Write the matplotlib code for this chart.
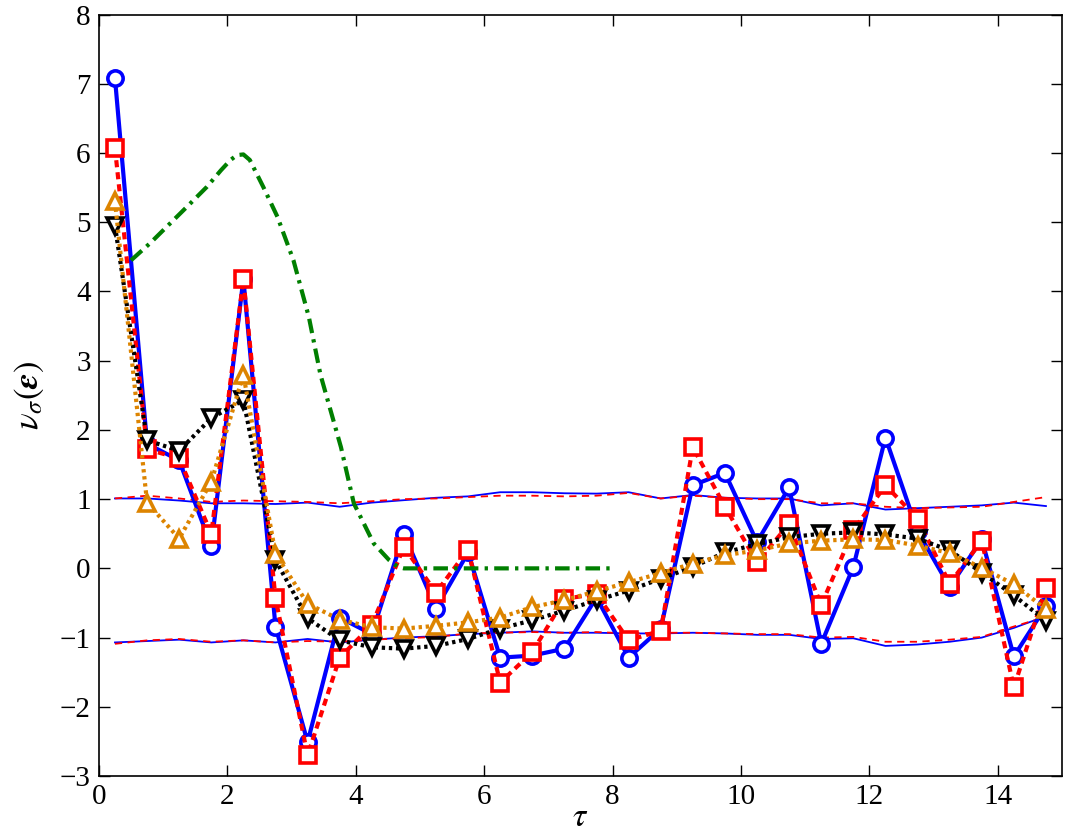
import numpy as np
import matplotlib
matplotlib.use('Agg')
import matplotlib.pyplot as plt

plt.rcParams['font.family'] = ['Liberation Serif', 'DejaVu Serif']
plt.rcParams['mathtext.fontset'] = 'stix'
plt.rcParams['font.size'] = 21

# lags
tau = np.arange(0.25, 15.0, 0.5)

# series
blue = [7.08, 1.80, 1.56, 0.32, 4.18, -0.84, -2.51, -0.71, -0.95, 0.50,
        -0.58, 0.23, -1.29, -1.26, -1.16, -0.42, -1.29, -0.87, 1.20, 1.38,
        0.38, 1.17, -1.09, 0.02, 1.89, 0.54, -0.27, 0.42, -1.27, -0.55]
red = [6.07, 1.72, 1.59, 0.50, 4.18, -0.43, -2.70, -1.29, -0.82, 0.31,
       -0.35, 0.27, -1.65, -1.21, -0.44, -0.37, -1.04, -0.90, 1.75, 0.89,
       0.09, 0.64, -0.53, 0.55, 1.20, 0.72, -0.22, 0.40, -1.72, -0.29]
orange = [5.30, 0.95, 0.43, 1.25, 2.80, 0.21, -0.51, -0.74, -0.85, -0.87,
          -0.83, -0.78, -0.71, -0.56, -0.46, -0.33, -0.20, -0.07, 0.07, 0.19,
          0.26, 0.36, 0.40, 0.42, 0.41, 0.33, 0.22, 0.01, -0.23, -0.59]
black = [4.95, 1.85, 1.70, 2.17, 2.43, 0.12, -0.72, -1.04, -1.14, -1.16,
         -1.12, -1.02, -0.87, -0.75, -0.61, -0.46, -0.32, -0.15, 0.02, 0.23,
         0.35, 0.45, 0.50, 0.52, 0.49, 0.43, 0.26, -0.06, -0.39, -0.76]

# confidence bands
band_up_blue = [1.01, 1.01, 0.98, 0.94, 0.94, 0.93, 0.95, 0.89, 0.95, 0.985,
                1.02, 1.04, 1.10, 1.10, 1.085, 1.08, 1.10, 1.01, 1.06, 1.02,
                1.01, 1.01, 0.91, 0.94, 0.85, 0.87, 0.89, 0.91, 0.95, 0.90]
band_up_red = [1.01, 1.05, 1.01, 0.96, 0.98, 0.97, 0.96, 0.94, 0.97, 1.00,
               1.01, 1.03, 1.05, 1.05, 1.04, 1.05, 1.09, 1.01, 1.05, 1.02,
               1.00, 1.00, 0.94, 0.94, 0.89, 0.87, 0.88, 0.89, 0.96, 1.03]
band_lo_blue = [-1.07, -1.05, -1.03, -1.07, -1.04, -1.07, -1.02, -1.07, -1.03, -1.00,
                -0.98, -0.95, -0.93, -0.91, -0.93, -0.93, -0.94, -0.94, -0.93, -0.94,
                -0.96, -0.96, -1.02, -1.01, -1.12, -1.10, -1.06, -1.00, -0.86, -0.69]
band_lo_red = [-1.09, -1.04, -1.02, -1.06, -1.04, -1.07, -1.05, -1.06, -1.03, -1.01,
               -0.99, -0.94, -0.93, -0.92, -0.93, -0.92, -0.94, -0.93, -0.93, -0.94,
               -0.95, -0.95, -1.00, -0.99, -1.06, -1.06, -1.03, -0.99, -0.84, -0.70]

# green dash-dot curve
green_x = [0.5, 0.8, 1.16, 1.4, 1.68, 1.9, 2.05, 2.15, 2.25, 2.35, 2.56, 2.78,
           3.03, 3.27, 3.45, 3.77, 3.97, 4.28, 4.52, 4.66, 4.75, 8.0]
green_y = [4.45, 4.70, 5.03, 5.25, 5.51, 5.75, 5.90, 5.97, 5.98, 5.90, 5.51, 5.08,
           4.45, 3.63, 2.80, 1.75, 0.94, 0.36, 0.12, 0.02, 0.0, 0.0]

fig = plt.figure(figsize=(10.87, 8.34), dpi=100)
ax = fig.add_axes([0.091, 0.0695, 0.886, 0.913])

# thin bands
ax.plot(tau, band_up_blue, color='b', lw=1.3)
ax.plot(tau, band_lo_blue, color='b', lw=1.3)
ax.plot(tau, band_up_red, color='r', lw=1.3, dashes=(4, 3))
ax.plot(tau, band_lo_red, color='r', lw=1.3, dashes=(4, 3))

mk = dict(markersize=11, markeredgewidth=2.6, markerfacecolor='white')
ax.plot(tau, blue, color='b', lw=3, marker='o', **mk)
ax.plot(tau, red, color='r', lw=3, marker='s', dashes=(1.7, 1.2), **mk)
ax.plot(tau, black, color='k', lw=3, marker='v', dashes=(0.8, 0.9), **mk)
ax.plot(tau, orange, color='#dd8400', lw=3, marker='^', dashes=(0.8, 0.9), **mk)

ax.plot(green_x, green_y, color='#007f00', lw=3, dashes=(3.5, 1.5, 0.8, 1.5))

ax.set_xlim(0, 15)
ax.set_ylim(-3, 8)
ax.set_xticks(np.arange(0, 15, 2))
ax.set_yticks(np.arange(-3, 9, 1))
ax.tick_params(direction='in', length=8, width=1, top=True, right=True, pad=6)
for s in ax.spines.values():
    s.set_linewidth(1.2)

ax.set_xlabel(r'$\tau$', fontsize=24, labelpad=-6)
ax.set_ylabel(r'$\nu_{\sigma}(\boldsymbol{\epsilon})$', fontsize=25, labelpad=10)

fig.savefig('out.png', dpi=100)
